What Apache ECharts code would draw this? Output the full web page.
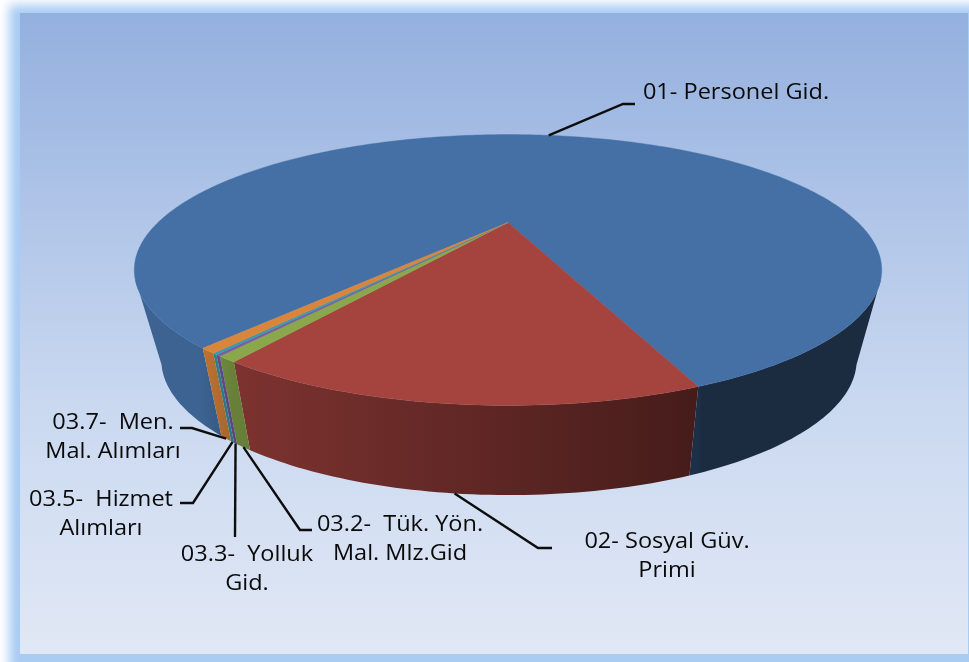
<!DOCTYPE html>
<html>
<head>
<meta charset="utf-8">
<style>html,body{margin:0;padding:0;background:#fff;overflow:hidden}#c{width:969px;height:662px}</style>
<script src="https://cdn.jsdelivr.net/npm/echarts@6/dist/echarts.min.js"></script>
</head>
<body>
<div id="c"></div>
<script>
// ---- data ----
var categories = ['01- Personel Gid.', '02- Sosyal Güv. Primi', '03.2- Tük. Yön. Mal. Mlz.Gid', '03.3- Yolluk Gid.', '03.5- Hizmet Alımları', '03.7- Men. Mal. Alımları'];
var values = [83.06, 15.33, 0.69, 0.17, 0.17, 0.58];
var labelLines = [
  ['01- Personel Gid.'],
  ['02- Sosyal Güv.', 'Primi'],
  ['03.2-  Tük. Yön.', 'Mal. Mlz.Gid'],
  ['03.3-  Yolluk', 'Gid.'],
  ['03.5-  Hizmet', 'Alımları'],
  ['03.7-  Men.', 'Mal. Alımları']
];
// ---- styles and layout ----
var colors = ['#4470a6', '#a5433f', '#8aa84b', '#7a5ca0', '#3b9aad', '#d9853b'];
var startDeg = 129.5;
var topFace = { cx: 508, cy: 222.5, a: 350, b: 118.8, k: 0.3506 };
var botFace = { cx: 509, cy: 310, a: 323, b: 116.6, k: 0.37 };
var labelCenters = [[736, 93], [667, 542], [400, 525], [247, 555], [101, 500], [113, 423]];
var lineGap = 29.5;
var leaderFace = ['top', 'bot', 'bot', 'bot', 'bot', 'bot'];
var leaderElbows = [
  [[623, 104], [635, 104]],
  [[538, 548], [552, 548]],
  [[300, 530], [312, 530]],
  [[235, 537]],
  [[193, 503], [180, 503]],
  [[192, 428], [180, 428]]
];
var fontFamily = '"Open Sans", sans-serif';
var fontSize = 21;
var textStretch = 1.12;
var frontSin = 0.4;

// ---- geometry helpers ----
var total = values.reduce(function (s, v) { return s + v; }, 0);
var cum = [0];
values.forEach(function (v, i) { cum[i + 1] = cum[i] + v; });
function angleOf(share) { return (startDeg + share / total * 360) * Math.PI / 180; }
function project(f, t) {
  var u = Math.cos(t), v = Math.sin(t), d = 1 - f.k * v;
  return [f.cx + f.a * u / d, f.cy + f.b * v / d];
}
function hexMix(hex, f) {
  var n = parseInt(hex.slice(1), 16);
  var r = Math.round((n >> 16 & 255) * f), g = Math.round((n >> 8 & 255) * f), b = Math.round((n & 255) * f);
  return 'rgb(' + r + ',' + g + ',' + b + ')';
}
function shade(x) {
  if (x <= 200) return 0.88;
  if (x <= 232) return 0.88 - (x - 200) / 32 * 0.12;
  if (x <= 700) return 0.76 - (x - 232) / 468 * 0.34;
  return 0.39;
}
function wallGradient(hex) {
  var stops = [0, 200, 232, 700, 701, 969].map(function (x) {
    return { offset: x / 969, color: hexMix(hex, shade(x)) };
  });
  return new echarts.graphic.LinearGradient(0, 0, 969, 0, stops, true);
}
function steps(i) {
  var a0 = angleOf(cum[i]), a1 = angleOf(cum[i + 1]);
  var n = Math.max(2, Math.ceil((a1 - a0) / (Math.PI / 180)));
  var out = [];
  for (var j = 0; j <= n; j++) out.push(a0 + (a1 - a0) * j / n);
  return out;
}
function renderTop(params, api) {
  var i = api.value(0);
  var pts = [[topFace.cx, topFace.cy]].concat(steps(i).map(function (t) { return project(topFace, t); }));
  return { type: 'polygon', shape: { points: pts }, style: { fill: colors[i], stroke: colors[i], lineWidth: 0.4 } };
}
function renderWall(params, api) {
  var i = api.value(0), runs = [], run = null;
  steps(i).forEach(function (t) {
    if (Math.sin(t) >= frontSin) {
      if (!run) { run = []; runs.push(run); }
      run.push(t);
    } else { run = null; }
  });
  var fill = wallGradient(colors[i]);
  var kids = runs.filter(function (r) { return r.length > 1; }).map(function (r) {
    var pts = r.map(function (t) { return project(topFace, t); })
      .concat(r.slice().reverse().map(function (t) { return project(botFace, t); }));
    return { type: 'polygon', shape: { points: pts }, style: { fill: fill } };
  });
  return { type: 'group', children: kids };
}
function renderLabel(params, api) {
  var i = api.value(0);
  var mid = angleOf((cum[i] + cum[i + 1]) / 2);
  var anchor = project(leaderFace[i] === 'top' ? topFace : botFace, mid);
  var kids = [{
    type: 'polyline',
    shape: { points: [anchor].concat(leaderElbows[i]) },
    style: { fill: null, stroke: '#0d0d0d', lineWidth: 2.4 }
  }];
  labelLines[i].forEach(function (line, j) {
    kids.push({
      type: 'text',
      x: labelCenters[i][0], y: labelCenters[i][1] + j * lineGap,
      scaleX: textStretch,
      style: {
        text: line, x: 0, y: 0,
        align: 'center', verticalAlign: 'middle',
        fill: '#0a0a0a', fontFamily: fontFamily, fontSize: fontSize
      }
    });
  });
  return { type: 'group', children: kids };
}

var rows = values.map(function (v, i) { return [i, v, categories[i]]; });
var chart = echarts.init(document.getElementById('c'), null, { renderer: 'canvas' });
chart.setOption({
  animation: false,
  backgroundColor: '#fff',
  graphic: [
    { type: 'rect', z: 0, shape: { x: 9 - 2000, y: 5, width: 1200, height: 900 },
      style: { fill: '#a9ccf3', shadowBlur: 10, shadowColor: '#a9ccf3', shadowOffsetX: 2000 } },
    { type: 'rect', z: 0, shape: { x: 20, y: 13, width: 948, height: 641 },
      style: { fill: new echarts.graphic.LinearGradient(0, 0, 0, 1, [
        { offset: 0, color: '#94b0df' }, { offset: 0.6, color: '#c9d8f0' }, { offset: 1, color: '#e1e8f5' }
      ]) } }
  ],
  series: [
    { type: 'custom', name: 'walls', coordinateSystem: 'none', renderItem: renderWall, data: rows, z: 2, silent: true },
    { type: 'custom', name: 'top', coordinateSystem: 'none', renderItem: renderTop, data: rows, z: 3, silent: true },
    { type: 'custom', name: 'labels', coordinateSystem: 'none', renderItem: renderLabel, data: rows, z: 4, silent: true }
  ]
});
</script>
</body>
</html>
